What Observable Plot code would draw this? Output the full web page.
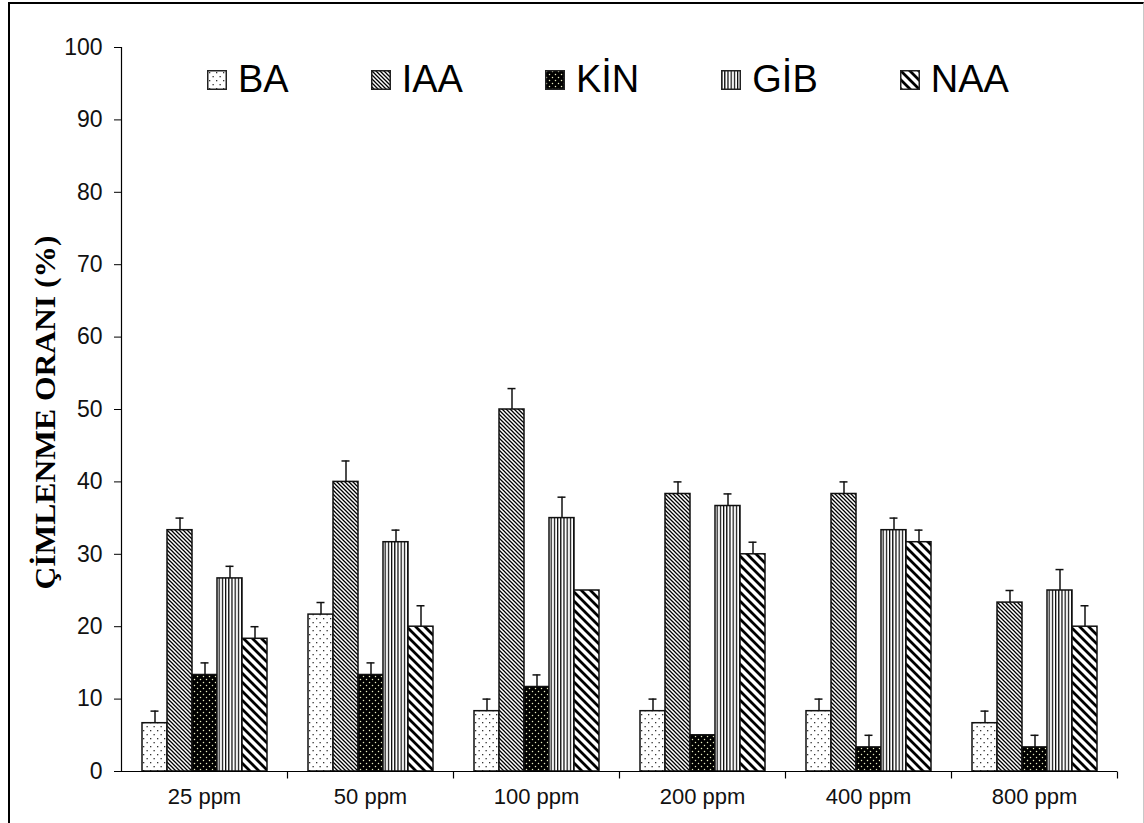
<!DOCTYPE html>
<html>
<head>
<meta charset="utf-8">
<script src="https://cdn.jsdelivr.net/npm/d3@7"></script>
<script src="https://cdn.jsdelivr.net/npm/@observablehq/plot@0.6"></script>
<style>
  html, body { margin: 0; padding: 0; background: #fff; }
  #wrap { position: relative; width: 1144px; height: 823px; overflow: hidden; }
  #border { position: absolute; left: 8px; top: 2px; right: 0px; bottom: -4px;
            border-left: 2px solid #000; border-top: 2px solid #000; border-right: 1px solid #c8c8c8;
            pointer-events: none; }
  #legend { position: absolute; left: 207px; top: 58px; display: flex; gap: 82px;
            font-family: "Liberation Sans", Arial, sans-serif; font-size: 38px; color: #000; }
  .item { display: flex; align-items: center; }
  .item svg { margin-right: 11px; }
</style>
</head>
<body>
<svg width="0" height="0" style="position:absolute">
  <defs>
    <pattern id="pat-0" patternUnits="userSpaceOnUse" width="7" height="8">
      <rect width="7" height="8" fill="#fff"/>
      <rect x="2" y="2" width="1.3" height="1.3" fill="#333"/>
      <rect x="5.5" y="6" width="1.3" height="1.3" fill="#333"/>
    </pattern>
    <pattern id="pat-1" patternUnits="userSpaceOnUse" width="4" height="4">
      <rect width="4" height="4" fill="#fff"/>
      <path d="M-1,-1 L5,5 M-1,3 L1,5 M3,-1 L5,1" stroke="#000" stroke-width="1.3"/>
    </pattern>
    <pattern id="pat-2" patternUnits="userSpaceOnUse" width="6" height="6">
      <rect width="6" height="6" fill="#000"/>
      <circle cx="1.5" cy="1.5" r="0.75" fill="#e8ecc0"/>
      <circle cx="4.5" cy="4.5" r="0.75" fill="#e8ecc0"/>
    </pattern>
    <pattern id="pat-3" patternUnits="userSpaceOnUse" width="3.2" height="4">
      <rect width="3.2" height="4" fill="#fff"/>
      <rect x="0" y="0" width="1.2" height="4" fill="#000"/>
    </pattern>
    <pattern id="pat-4" patternUnits="userSpaceOnUse" width="9" height="9">
      <rect width="9" height="9" fill="#fff"/>
      <path d="M-2,-2 L11,11 M-2,7 L2,11 M7,-2 L11,2" stroke="#000" stroke-width="2.8"/>
    </pattern>
  </defs>
</svg>
<div id="wrap">
  <div id="chart"></div>
  <div id="legend"></div>
  <div id="border"></div>
</div>
<script>
// Germination rate (%) by hormone and concentration, with standard errors
const groups = ["25 ppm", "50 ppm", "100 ppm", "200 ppm", "400 ppm", "800 ppm"];
const series = ["BA", "IAA", "KİN", "GİB", "NAA"];

const baValues  = [6.67, 21.67, 8.33, 8.33, 8.33, 6.67];
const baErrors  = [1.67, 1.67, 1.67, 1.67, 1.67, 1.67];
const iaaValues = [33.33, 40, 50, 38.33, 38.33, 23.33];
const iaaErrors = [1.67, 2.89, 2.89, 1.67, 1.67, 1.67];
const kinValues = [13.33, 13.33, 11.67, 5, 3.33, 3.33];
const kinErrors = [1.67, 1.67, 1.67, 0, 1.67, 1.67];
const gibValues = [26.67, 31.67, 35, 36.67, 33.33, 25];
const gibErrors = [1.67, 1.67, 2.89, 1.67, 1.67, 2.89];
const naaValues = [18.33, 20, 25, 30, 31.67, 20];
const naaErrors = [1.67, 2.89, 0, 1.67, 1.67, 2.89];

const yTicks = [0, 10, 20, 30, 40, 50, 60, 70, 80, 90, 100];
const yTitle = "ÇİMLENME ORANI (%)";

const valueSets = [baValues, iaaValues, kinValues, gibValues, naaValues];
const errorSets = [baErrors, iaaErrors, kinErrors, gibErrors, naaErrors];

const rows = [];
series.forEach((s, i) => {
  groups.forEach((g, j) => {
    rows.push({group: g, series: s, idx: i, value: valueSets[i][j], err: errorSets[i][j]});
  });
});
const withErr = rows.filter(d => d.err > 0);

// a short downward tick at the right edge of each group
const tickDown = {draw(ctx) { ctx.moveTo(0, 0); ctx.lineTo(0, 7); }};

const chart = Plot.plot({
  width: 1144,
  height: 823,
  marginLeft: 120,
  marginRight: 26,
  marginTop: 47,
  marginBottom: 52,
  style: {fontFamily: "'Liberation Sans', Arial, sans-serif", fontSize: "22px", color: "#111", background: "transparent"},
  fx: {domain: groups, padding: 0, label: null},
  x: {domain: series, paddingInner: 0, paddingOuter: 0.725, axis: null},
  y: {domain: [0, 100], label: null},
  marks: [
    ...series.map((s, i) =>
      Plot.barY(rows.filter(d => d.idx === i), {
        fx: "group", x: "series", y: "value",
        fill: `url(#pat-${i})`, stroke: "#111", strokeWidth: 1.5
      })
    ),
    Plot.ruleX(withErr, {fx: "group", x: "series", y1: "value", y2: d => d.value + d.err, stroke: "#111", strokeWidth: 1.5}),
    Plot.tickY(withErr, {fx: "group", x: "series", y: d => d.value + d.err, stroke: "#111", strokeWidth: 1.5, insetLeft: 8.5, insetRight: 8.5}),
    Plot.ruleY([0], {stroke: "#000", strokeWidth: 1.2}),
    Plot.frame({anchor: "left", facetAnchor: "left", stroke: "#000", strokeWidth: 1.2}),
    Plot.dot(groups, {fx: d => d, frameAnchor: "bottom-right", symbol: tickDown, stroke: "#000", strokeWidth: 1.2}),
    Plot.axisY({ticks: yTicks, tickSize: 7, tickPadding: 12, label: null, stroke: "#000", fontSize: 23}),
    Plot.axisFx({anchor: "bottom", tickSize: 0, tickPadding: 17, label: null, fontSize: 22}),
    Plot.text([yTitle], {
      fx: [groups[0]], frameAnchor: "left", text: d => d, rotate: -90, dx: -76, dy: 3,
      textAnchor: "middle",
      fontSize: 30, fontWeight: "bold", fontFamily: "'Liberation Serif', 'Times New Roman', serif", fill: "#000"
    })
  ]
});
document.getElementById("chart").appendChild(chart);

// the axis title is set in a tall, condensed style
chart.querySelectorAll("text").forEach(t => {
  if (t.textContent === yTitle) {
    t.setAttribute("textLength", 354);
    t.setAttribute("lengthAdjust", "spacingAndGlyphs");
  }
});

// legend with patterned swatches
const legend = document.getElementById("legend");
series.forEach((s, i) => {
  const item = document.createElement("div");
  item.className = "item";
  item.innerHTML = `<svg width="20" height="20"><rect x="0.75" y="0.75" width="18.5" height="18.5" fill="url(#pat-${i})" stroke="#222" stroke-width="1.5"/></svg><span>${s}</span>`;
  legend.appendChild(item);
});
</script>
</body>
</html>
